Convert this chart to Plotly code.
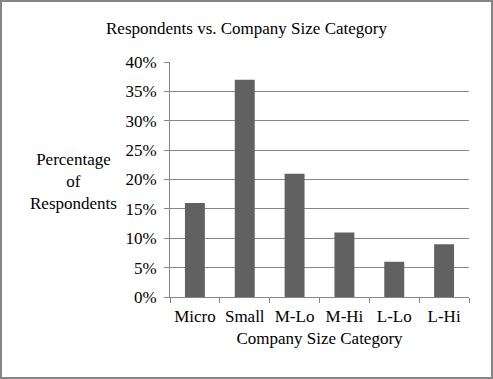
import plotly.graph_objects as go

categories = ["Micro", "Small", "M-Lo", "M-Hi", "L-Lo", "L-Hi"]
values = [0.16, 0.37, 0.21, 0.11, 0.06, 0.09]
y_ticks = [0, 0.05, 0.10, 0.15, 0.20, 0.25, 0.30, 0.35, 0.40]
y_tick_labels = ["0%", "5%", "10%", "15%", "20%", "25%", "30%", "35%", "40%"]

W, H = 493, 379
L, R, T, B = 170, 24, 62, 82
pw, ph = W - L - R, H - T - B
font = "Liberation Serif, Times New Roman, serif"

fig = go.Figure(go.Bar(x=categories, y=values, marker=dict(color="#616161", line=dict(width=0)),
                       width=0.4))

def px2x(p):
    return (p - L) / pw

def py2y(p):
    return (H - B - p) / ph

fig.update_layout(
    width=W, height=H,
    margin=dict(l=L, r=R, t=T, b=B),
    paper_bgcolor="white", plot_bgcolor="white",
    font=dict(family=font, size=17, color="black"),
    showlegend=False,
    title=dict(text="Respondents vs. Company Size Category", x=0.5, xanchor="center",
               y=1 - 28 / H, yanchor="middle", font=dict(size=17)),
    xaxis=dict(showline=True, linecolor="#868686", linewidth=1, ticks="outside",
               tickson="boundaries", ticklen=5, tickcolor="#868686", tickangle=0,
               tickfont=dict(size=17), ticklabelstandoff=4,
               title=dict(text="Company Size Category", standoff=6, font=dict(size=17)),
               showgrid=False),
    yaxis=dict(range=[0, 0.40], tickvals=y_ticks, ticktext=y_tick_labels, showgrid=True,
               gridcolor="#868686", gridwidth=1, showline=True, linecolor="#868686",
               ticks="outside", ticklen=5, tickcolor="#868686", tickfont=dict(size=17),
               ticklabelstandoff=4, zeroline=False),
    annotations=[dict(text="Percentage<br>of<br>Respondents", xref="paper", yref="paper",
                      x=px2x(73), y=py2y(181), xanchor="center", yanchor="middle",
                      showarrow=False, align="center", font=dict(size=17))],
    shapes=[dict(type="rect", xref="paper", yref="paper", x0=px2x(1), x1=px2x(492),
                 y0=py2y(378), y1=py2y(1), line=dict(color="#868686", width=2))],
)

fig.write_html("out.html", config={"displayModeBar": False},
               post_script="document.body.style.margin='0';document.body.style.overflow='hidden';")
